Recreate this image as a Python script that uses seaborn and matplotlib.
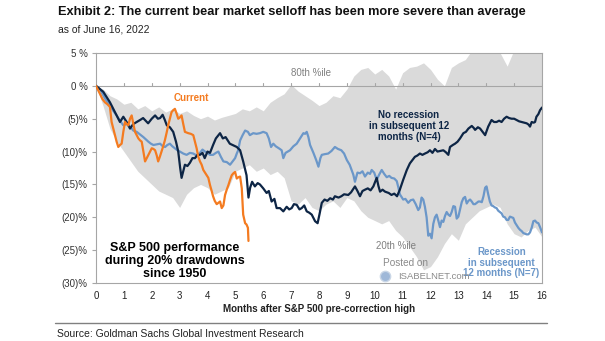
import numpy as np
import pandas as pd
import matplotlib
matplotlib.use("Agg")
import matplotlib.pyplot as plt
import seaborn as sns

# ---- data: S&P 500 path after the pre-correction high (% change) ----
band_months = [0.0, 0.25, 0.5, 0.75, 1.0, 1.25, 1.5, 1.75, 2.0, 2.25, 2.5, 2.75, 3.0, 3.25,
               3.5, 3.75, 4.0, 4.25, 4.5, 4.75, 5.0, 5.25, 5.5, 5.75, 6.0, 6.25, 6.5, 6.75,
               7.0, 7.25, 7.5, 7.75, 8.0, 8.25, 8.5, 8.75, 9.0, 9.25, 9.5, 9.75, 10.0, 10.25,
               10.5, 10.75, 11.0, 11.25, 11.5, 11.75, 12.0, 12.25, 12.5, 12.75, 13.0, 13.25,
               13.5, 13.75, 14.0, 14.25, 14.5, 14.75, 15.0, 15.25, 15.5, 15.75, 16.0]
pct80 = [0.0, -0.5, -1.5, -2.0, -2.8, -2.5, -3.5, -3.0, -3.8, -3.2, -4.0, -3.5, -4.2, -3.8,
         -4.5, -5.0, -4.6, -5.2, -4.8, -4.5, -4.2, -3.5, -3.8, -3.2, -3.8, -2.5, -1.8, -1.2,
         0.2, -0.8, -1.5, -2.2, -3.0, -2.5, -1.5, -1.8, -0.5, 1.5, 2.5, 2.8, 1.8, 2.5,
         1.5, -0.5, 2.0, 2.8, 3.0, 3.5, 2.5, 1.0, 0.0, 2.8, 3.5, 4.0,
         5.5, 6.0, 6.0, 5.5, 5.0, 3.0, 5.5, 6.0, 6.0, 6.0, 6.0]
pct20 = [0.0, -3.0, -6.5, -8.5, -10.0, -11.5, -13.0, -14.0, -15.0, -16.0, -16.5, -17.0, -18.5, -16.5,
         -15.5, -15.0, -15.5, -16.5, -16.0, -15.5, -13.0, -12.5, -12.0, -13.0, -12.5, -13.5, -13.0, -14.0,
         -17.5, -18.0, -17.0, -18.5, -19.0, -18.0, -17.5, -18.5, -17.0, -17.5, -19.0, -20.0, -20.5, -21.0,
         -20.5, -22.0, -23.0, -24.5, -26.0, -28.0, -27.5, -26.0, -24.0, -22.5, -23.5, -21.0,
         -20.0, -19.0, -18.5, -18.0, -18.5, -21.0, -22.5, -23.0, -22.0, -21.5, -23.0]

norec_months = [0.0, 0.26, 0.5, 0.68, 0.86, 0.98, 1.1, 1.22, 1.34, 1.46, 1.58, 1.69, 1.78, 1.87,
                2.0, 2.12, 2.22, 2.3, 2.39, 2.47, 2.54, 2.65, 2.77, 2.87, 2.95, 3.02, 3.07, 3.13,
                3.19, 3.28, 3.37, 3.46, 3.55, 3.64, 3.73, 3.82, 3.9, 4.0, 4.09, 4.2, 4.3, 4.45,
                4.55, 4.65, 4.8, 4.9, 5.05, 5.17, 5.28, 5.4, 5.47, 5.53, 5.6, 5.7, 5.8, 5.88,
                6.0, 6.12, 6.2, 6.3, 6.4, 6.48, 6.6, 6.72, 6.84, 6.93, 7.02, 7.1, 7.2, 7.3,
                7.38, 7.47, 7.56, 7.65, 7.74, 7.86, 7.95, 8.02, 8.1, 8.2, 8.3, 8.4, 8.5, 8.57,
                8.7, 8.8, 8.9, 9.05, 9.15, 9.29, 9.38, 9.47, 9.56, 9.65, 9.75, 9.85, 9.95, 10.07,
                10.13, 10.19, 10.28, 10.37, 10.5, 10.6, 10.7, 10.8, 10.9, 11.02, 11.15, 11.26, 11.35, 11.44,
                11.53, 11.62, 11.71, 11.8, 11.9, 11.98, 12.07, 12.16, 12.25, 12.36, 12.46, 12.55, 12.64, 12.7,
                12.8, 12.88, 12.97, 13.06, 13.18, 13.27, 13.36, 13.48, 13.55, 13.6, 13.7, 13.78, 13.87, 13.96,
                14.07, 14.19, 14.28, 14.37, 14.46, 14.55, 14.64, 14.73, 14.82, 14.91, 15.0, 15.09, 15.18, 15.27,
                15.36, 15.45, 15.52, 15.57, 15.63, 15.7, 15.75, 15.8, 15.87, 15.93, 16.0]
norec_values = [0.0, -0.9, -2.5, -4.0, -5.5, -4.7, -5.5, -6.5, -5.8, -5.5, -5.2, -4.9, -5.3, -5.7,
                -5.0, -4.5, -5.0, -4.9, -4.4, -5.2, -6.0, -6.3, -7.0, -8.5, -10.0, -12.5, -14.0, -13.0,
                -12.0, -12.2, -11.7, -11.0, -11.0, -10.5, -10.5, -10.2, -11.0, -10.0, -10.2, -9.0, -8.0, -7.2,
                -8.0, -7.8, -8.8, -9.0, -9.3, -9.8, -11.5, -13.6, -17.0, -15.5, -14.6, -15.3, -14.8, -15.0,
                -15.6, -16.3, -16.0, -17.6, -17.2, -18.6, -18.6, -19.1, -18.4, -18.8, -18.6, -18.0, -18.1, -18.8,
                -18.6, -18.2, -19.1, -19.3, -19.6, -20.6, -20.9, -19.5, -17.8, -17.3, -17.5, -17.1, -17.3, -16.8,
                -17.0, -16.8, -16.5, -16.6, -16.2, -15.3, -16.0, -16.8, -16.0, -15.8, -15.6, -15.9, -15.3, -14.0,
                -15.2, -16.1, -15.8, -16.1, -16.3, -16.6, -16.4, -16.8, -15.8, -14.3, -12.8, -11.8, -11.3, -10.8,
                -10.6, -10.3, -10.5, -10.3, -10.1, -9.8, -10.2, -9.6, -10.0, -9.9, -9.8, -10.1, -10.5, -9.3,
                -9.0, -8.8, -8.5, -8.0, -7.2, -7.0, -6.5, -6.1, -6.4, -6.7, -6.3, -6.5, -7.0, -7.5,
                -6.2, -5.2, -5.5, -5.5, -5.3, -5.5, -5.0, -4.7, -4.9, -5.0, -5.0, -5.2, -5.4, -5.5,
                -5.6, -5.7, -5.9, -6.2, -5.5, -5.6, -5.5, -4.7, -4.3, -3.7, -3.3]

rec_months = [0.0, 0.14, 0.32, 0.5, 0.62, 0.74, 0.86, 0.98, 1.1, 1.22, 1.34, 1.46, 1.58, 1.7,
              1.8, 1.88, 1.97, 2.06, 2.18, 2.3, 2.4, 2.48, 2.56, 2.65, 2.74, 2.83, 2.92, 3.01,
              3.13, 3.25, 3.37, 3.49, 3.61, 3.73, 3.82, 3.91, 4.0, 4.09, 4.2, 4.3, 4.39, 4.48,
              4.57, 4.69, 4.81, 4.9, 4.99, 5.05, 5.1, 5.17, 5.26, 5.35, 5.45, 5.52, 5.64, 5.76,
              5.88, 6.0, 6.12, 6.2, 6.28, 6.36, 6.45, 6.56, 6.66, 6.72, 6.8, 6.88, 6.96, 7.08,
              7.2, 7.32, 7.44, 7.5, 7.56, 7.62, 7.68, 7.8, 7.9, 7.98, 8.05, 8.1, 8.2, 8.33,
              8.45, 8.57, 8.68, 8.8, 8.9, 9.0, 9.1, 9.17, 9.23, 9.29, 9.38, 9.47, 9.56, 9.65,
              9.75, 9.83, 9.89, 9.98, 10.07, 10.16, 10.25, 10.34, 10.43, 10.52, 10.6, 10.7, 10.79, 10.85,
              10.9, 10.96, 11.02, 11.1, 11.2, 11.29, 11.38, 11.47, 11.56, 11.62, 11.68, 11.74, 11.8, 11.86,
              11.92, 11.98, 12.04, 12.1, 12.16, 12.22, 12.28, 12.34, 12.4, 12.46, 12.52, 12.58, 12.64, 12.7,
              12.76, 12.82, 12.88, 12.94, 13.0, 13.06, 13.12, 13.18, 13.24, 13.3, 13.36, 13.42, 13.48, 13.54,
              13.6, 13.66, 13.72, 13.78, 13.84, 13.9, 13.96, 14.01, 14.07, 14.13, 14.19, 14.25, 14.31, 14.37,
              14.43, 14.49, 14.55, 14.61, 14.67, 14.73, 14.79, 14.85, 14.91, 14.97, 15.03, 15.09, 15.15, 15.21,
              15.27, 15.33, 15.39, 15.45, 15.51, 15.57, 15.63, 15.69, 15.75, 15.81, 15.87, 15.93, 16.0]
rec_values = [0.0, -0.5, -1.9, -3.0, -3.8, -4.5, -5.3, -6.0, -5.8, -6.2, -6.8, -7.0, -7.4, -7.8,
              -8.2, -8.5, -8.8, -9.0, -8.9, -8.8, -9.2, -9.3, -9.0, -8.8, -9.2, -9.5, -9.8, -10.0,
              -10.3, -10.5, -10.2, -10.3, -10.6, -10.2, -9.7, -10.0, -10.2, -10.5, -10.5, -10.2, -10.0, -10.8,
              -11.5, -11.6, -12.0, -11.5, -11.0, -10.3, -9.8, -8.3, -7.5, -6.8, -7.0, -7.5, -7.2, -7.3,
              -7.2, -7.0, -7.2, -8.0, -9.3, -8.8, -9.2, -9.5, -9.8, -11.0, -10.2, -10.0, -9.8, -9.2,
              -8.8, -8.0, -7.2, -7.3, -7.0, -7.8, -9.0, -10.2, -11.3, -12.3, -11.0, -10.5, -10.4, -10.3,
              -9.9, -9.3, -9.6, -9.8, -10.3, -11.3, -12.0, -12.8, -13.5, -14.6, -13.2, -13.3, -13.0, -13.8,
              -13.2, -13.4, -12.8, -13.2, -14.3, -13.5, -12.8, -13.4, -13.9, -13.7, -14.0, -14.1, -14.5, -15.5,
              -16.5, -16.9, -17.3, -17.2, -17.8, -17.4, -17.3, -18.0, -18.9, -18.5, -17.0, -17.3, -18.4, -20.0,
              -22.8, -22.5, -23.2, -21.0, -20.0, -19.6, -20.5, -21.5, -20.5, -20.7, -19.8, -19.2, -19.6, -19.8,
              -19.2, -18.3, -18.4, -20.2, -19.9, -18.8, -17.7, -17.1, -16.9, -17.9, -17.5, -17.3, -17.6, -18.0,
              -18.0, -17.8, -17.6, -17.6, -17.7, -16.8, -15.5, -15.3, -16.5, -17.6, -18.2, -18.3, -18.5, -18.6,
              -19.0, -19.2, -19.4, -19.9, -20.0, -20.4, -20.4, -19.9, -20.0, -20.1, -20.8, -21.2, -21.6, -21.9,
              -22.1, -22.4, -22.5, -22.6, -22.6, -22.3, -21.6, -20.6, -20.5, -20.8, -20.9, -21.5, -22.3]

cur_months = [0.0, 0.07, 0.14, 0.23, 0.32, 0.41, 0.5, 0.56, 0.62, 0.68, 0.74, 0.8, 0.86, 0.92,
              0.98, 1.04, 1.1, 1.16, 1.22, 1.28, 1.34, 1.4, 1.46, 1.52, 1.58, 1.64, 1.7, 1.76,
              1.82, 1.88, 1.94, 2.0, 2.06, 2.12, 2.18, 2.23, 2.29, 2.35, 2.41, 2.47, 2.53, 2.59,
              2.65, 2.71, 2.77, 2.83, 2.89, 2.95, 3.01, 3.07, 3.13, 3.19, 3.25, 3.31, 3.4, 3.49,
              3.55, 3.61, 3.67, 3.73, 3.79, 3.85, 3.91, 3.97, 4.03, 4.09, 4.15, 4.2, 4.26, 4.33,
              4.39, 4.45, 4.51, 4.57, 4.63, 4.69, 4.75, 4.81, 4.87, 4.93, 4.99, 5.05, 5.11, 5.17,
              5.23, 5.28, 5.35, 5.4, 5.45, 5.47]
cur_values = [0.0, -0.6, -1.2, -2.0, -2.5, -2.8, -3.2, -5.5, -6.5, -7.5, -8.5, -9.3, -9.0, -8.8,
              -7.0, -5.5, -5.8, -6.0, -5.0, -4.5, -5.8, -7.0, -7.5, -8.0, -8.3, -8.5, -10.0, -11.5,
              -11.0, -10.5, -10.0, -9.5, -9.6, -9.8, -10.6, -11.5, -10.8, -10.0, -9.2, -8.3, -7.2, -6.0,
              -5.0, -4.0, -3.7, -3.5, -4.2, -5.0, -4.8, -4.5, -5.8, -7.0, -7.1, -7.2, -7.3, -7.5,
              -8.5, -9.5, -10.8, -11.5, -12.0, -12.8, -13.2, -13.6, -14.0, -15.1, -16.0, -16.8, -17.5, -18.0,
              -17.8, -17.6, -18.6, -18.2, -16.6, -15.8, -15.1, -14.3, -13.6, -13.3, -13.1, -14.1, -13.9, -13.8,
              -15.6, -19.6, -20.9, -21.1, -21.6, -23.6]

y_ticks = [5, 0, -5, -10, -15, -20, -25, -30]
y_tick_labels = ["5 %", "0 %", "(5)%", "(10)%", "(15)%", "(20)%", "(25)%", "(30)%"]
x_ticks = list(range(0, 17))

NAVY = "#0d2545"
BLUE = "#6b97c9"
ORANGE = "#f47b20"
BAND = "#dadada"
FRAME = "#a6a6a6"

sns.set_theme(style="white")
plt.rcParams["font.family"] = ["Liberation Sans", "DejaVu Sans"]

fig = plt.figure(figsize=(6.05, 3.41), dpi=100)
ax = fig.add_axes([96 / 605, 58 / 341, 446 / 605, 230 / 341])

ax.fill_between(band_months, pct20, pct80, color=BAND, linewidth=0, zorder=1)

lines = pd.concat([
    pd.DataFrame({"month": rec_months, "pct": rec_values, "series": "rec"}),
    pd.DataFrame({"month": norec_months, "pct": norec_values, "series": "norec"}),
    pd.DataFrame({"month": cur_months, "pct": cur_values, "series": "cur"}),
])
sns.lineplot(data=lines, x="month", y="pct", hue="series", sort=False,
             palette={"rec": BLUE, "norec": NAVY, "cur": ORANGE},
             hue_order=["rec", "norec", "cur"], linewidth=1.6, legend=False, ax=ax, zorder=3)

# zero line with small month ticks pointing up
ax.axhline(0, color=FRAME, linewidth=0.8, zorder=2)
for m in x_ticks[1:]:
    ax.plot([m, m], [0, 0.45], color=FRAME, linewidth=0.8, zorder=2)

ax.set_xlim(0, 16)
ax.set_ylim(-30, 5)
ax.set_yticks(y_ticks)
ax.set_yticklabels(y_tick_labels)
ax.set_xticks(x_ticks)
ax.tick_params(axis="y", length=3, width=0.8, color=FRAME, labelsize=7, labelcolor="#333333", pad=3, left=True)
ax.tick_params(axis="x", length=0, labelsize=7, labelcolor="#222222", pad=6)
for s in ax.spines.values():
    s.set_color(FRAME)
    s.set_linewidth(0.8)
ax.set_xlabel("Months after S&P 500 pre-correction high", fontsize=7, fontweight="bold",
              color="#222222", labelpad=2)
ax.set_ylabel("")

# annotations
ax.text(3.42, -1.9, "Current", color=ORANGE, fontsize=7, fontweight="bold", ha="center", va="center")
ax.text(7.7, 1.9, "80th %ile", color="#808080", fontsize=7, ha="center", va="center")
ax.text(11.23, -6.15, "No recession\nin subsequent 12\nmonths (N=4)", color=NAVY, fontsize=7,
        fontweight="bold", ha="center", va="center", linespacing=1.1)
ax.text(10.76, -24.3, "20th %ile", color="#808080", fontsize=7, ha="center", va="center")
ax.text(14.55, -26.9, "Recession\nin subsequent\n12 months (N=7)", color=BLUE, fontsize=7,
        fontweight="bold", ha="center", va="center", linespacing=1.1)
ax.text(2.83, -26.6, "S&P 500 performance\nduring 20% drawdowns\nsince 1950", color="black",
        fontsize=9, fontweight="bold", ha="center", va="center", linespacing=1.1)
ax.text(11.1, -26.9, "Posted on", color="#8a8a8a", fontsize=7.2, ha="center", va="center", zorder=4)
ax.text(10.85, -29.0, "ISABELNET.com", color="#8a8a8a", fontsize=6.8, ha="left", va="center", zorder=4)
ax.scatter([10.35], [-29.0], s=55, color="#9fb8d8", edgecolor="#c9d6e6", zorder=4)

fig.text(58 / 605, 1 - 12 / 341, "Exhibit 2: The current bear market selloff has been more severe than average",
         fontsize=9.2, fontweight="bold", color="#111111", va="center", ha="left")
fig.text(58 / 605, 1 - 30 / 341, "as of June 16, 2022", fontsize=7.5, color="#222222", va="center", ha="left")
fig.add_artist(plt.Line2D([55 / 605, 547 / 605], [1 - 323 / 341, 1 - 323 / 341],
                          color="#808080", linewidth=1.0))
fig.text(57 / 605, 1 - 334 / 341, "Source: Goldman Sachs Global Investment Research",
         fontsize=7.5, color="#222222", va="center", ha="left")

fig.savefig("out.png", dpi=100)
